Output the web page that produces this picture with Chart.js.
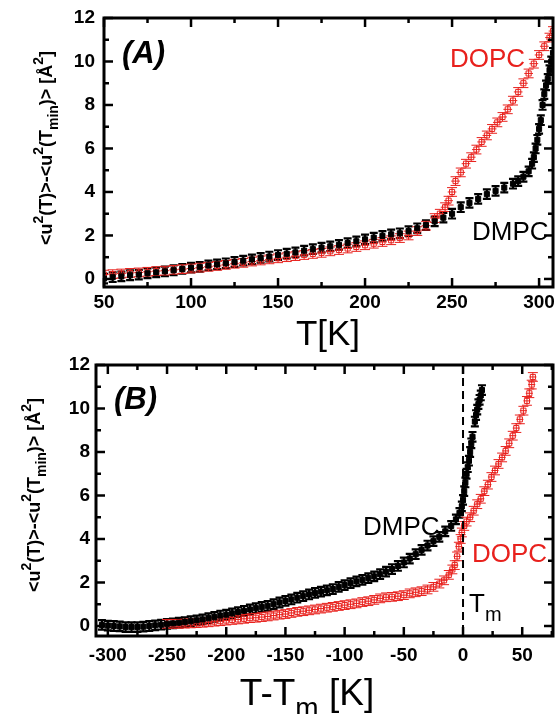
<!DOCTYPE html>
<html><head><meta charset="utf-8">
<script src="https://cdn.jsdelivr.net/npm/chart.js@4.4.0/dist/chart.umd.min.js"></script>
<style>
html,body{margin:0;padding:0;background:#fff;width:558px;height:714px;overflow:hidden;}
canvas{position:absolute;left:0;}
#ca{top:0;}
#cb{top:350px;}
</style></head><body>
<canvas id="ca" width="558" height="360"></canvas>
<canvas id="cb" width="558" height="364"></canvas>
<script>
// ---------- Panel A data: T [K] vs <u2(T)>-<u2(Tmin)> ----------
const tA_DMPC = [50,55,60,65,70,75,80,85,90,95,100,105,110,115,120,125,130,135,140,145,150,155,160,165,170,175,180,185,190,195,200,205,210,215,220,225,230,235,240,245,250,255,260,265,270,275,280,285,288,291,294,296,297,298,299,300,301,302,303,304,305,306,307,308];
const uA_DMPC = [0.02,0.08,0.12,0.17,0.2,0.26,0.3,0.35,0.4,0.46,0.52,0.56,0.62,0.67,0.72,0.78,0.84,0.9,0.97,1.03,1.1,1.16,1.22,1.3,1.37,1.44,1.5,1.57,1.65,1.73,1.82,1.9,1.98,2.05,2.1,2.2,2.33,2.48,2.65,2.82,3.0,3.3,3.5,3.68,3.9,4.05,4.2,4.38,4.5,4.7,4.95,5.3,5.6,6.0,6.4,6.9,7.3,8.0,8.5,8.9,9.2,9.6,10.0,10.4];
const tA_DOPC = [50,55,60,65,70,75,80,85,90,95,100,105,110,115,120,125,130,135,140,145,150,155,160,165,170,175,180,185,190,195,200,205,210,215,220,225,230,235,240,243,246,248,250,252,255,258,261,264,267,270,273,276,279,282,285,288,291,294,297,300,303,306,308];
const uA_DOPC = [0.2,0.22,0.25,0.28,0.3,0.33,0.36,0.38,0.42,0.45,0.48,0.52,0.56,0.6,0.65,0.7,0.74,0.8,0.85,0.9,0.95,1.0,1.05,1.1,1.15,1.2,1.27,1.33,1.4,1.47,1.55,1.62,1.7,1.78,1.88,2.0,2.2,2.45,2.8,3.0,3.3,3.6,4.0,4.5,4.9,5.3,5.6,5.95,6.3,6.6,6.9,7.2,7.45,7.8,8.2,8.6,9.0,9.45,9.9,10.3,10.7,11.1,11.4];

// ---------- Panel B data: T - Tm [K] ----------
const tB_DMPC = [-305,-300,-295,-290,-285,-280,-275,-270,-265,-260,-255,-250,-245,-240,-235,-230,-225,-220,-215,-210,-205,-200,-195,-190,-185,-180,-175,-170,-165,-160,-155,-150,-145,-140,-135,-130,-125,-120,-115,-110,-105,-100,-95,-90,-85,-80,-75,-70,-65,-60,-55,-50,-45,-40,-35,-30,-25,-20,-15,-10,-6,-3,-1,0,1,2,3,4,5,6,7,8,10,11,12,13,14,15,16];
const uB_DMPC = [0.05,0.02,0.0,-0.02,-0.05,-0.05,-0.05,-0.03,0.0,0.03,0.06,0.1,0.12,0.15,0.18,0.22,0.26,0.3,0.36,0.42,0.48,0.52,0.58,0.64,0.7,0.76,0.82,0.88,0.93,1.0,1.08,1.15,1.22,1.3,1.37,1.45,1.52,1.58,1.64,1.7,1.8,1.88,1.97,2.05,2.12,2.2,2.28,2.38,2.5,2.62,2.76,2.92,3.1,3.3,3.5,3.7,3.9,4.1,4.35,4.6,4.9,5.2,5.5,5.8,6.2,6.6,7.0,7.3,7.6,8.0,8.4,8.7,9.4,9.7,9.95,10.2,10.4,10.6,10.85];
const tB_DOPC = [-250,-245,-240,-235,-230,-225,-220,-215,-210,-205,-200,-195,-190,-185,-180,-175,-170,-165,-160,-155,-150,-145,-140,-135,-130,-125,-120,-115,-110,-105,-100,-95,-90,-85,-80,-75,-70,-65,-60,-55,-50,-45,-40,-35,-30,-25,-20,-16,-12,-9,-7,-5,-3.5,-2,-1,1,3,6,9,12,15,18,21,24,27,30,33,36,39,42,45,48,51,54,56,58,59];
const uB_DOPC = [0.1,0.1,0.1,0.11,0.12,0.13,0.15,0.17,0.2,0.22,0.25,0.28,0.3,0.33,0.36,0.38,0.41,0.44,0.48,0.52,0.55,0.6,0.65,0.68,0.72,0.76,0.8,0.84,0.88,0.92,0.96,1.0,1.04,1.1,1.14,1.2,1.27,1.32,1.34,1.37,1.42,1.5,1.55,1.6,1.68,1.8,1.95,2.1,2.35,2.6,2.8,3.2,3.65,4.0,4.3,4.6,4.8,5.0,5.3,5.6,5.85,6.2,6.5,6.85,7.15,7.45,7.75,8.05,8.4,8.75,9.1,9.5,9.9,10.35,10.7,11.1,11.45];

// ---------- tick values ----------
const xMajorA = [50,100,150,200,250,300];
const xMinorA = [75,125,175,225,275];
const xMajorB = [-300,-250,-200,-150,-100,-50,0,50];
const xMinorB = [-275,-225,-175,-125,-75,-25,25,75];
const yMajor = [0,2,4,6,8,10,12];
const yMinor = [1,3,5,7,9,11];
const tmLine = [0];

const RED = '#e8211d';
const FONT = 'Liberation Sans, Arial, sans-serif';
Chart.defaults.font.family = FONT;

function pts(xs, ys){ return xs.map((x,i)=>({x:x, y:ys[i]})); }

const errPlugin = {
  id:'errbars',
  beforeDatasetsDraw(chart, args, o){
    const ctx=chart.ctx, xs=chart.scales.x, ys=chart.scales.y, a=chart.chartArea;
    ctx.save();
    ctx.beginPath(); ctx.rect(a.left,a.top,a.right-a.left,a.bottom-a.top); ctx.clip();
    chart.data.datasets.forEach((ds,di)=>{
      const e = o.err[di];
      ctx.strokeStyle = e.color; ctx.lineWidth = e.w;
      ds.data.forEach(p=>{
        const px=xs.getPixelForValue(p.x), py=ys.getPixelForValue(p.y);
        const y1=ys.getPixelForValue(p.y-e.dy), y2=ys.getPixelForValue(p.y+e.dy);
        const x1=xs.getPixelForValue(p.x-e.dx), x2=xs.getPixelForValue(p.x+e.dx);
        ctx.beginPath();
        ctx.moveTo(px,y1); ctx.lineTo(px,y2);
        ctx.moveTo(px-e.cap,y1); ctx.lineTo(px+e.cap,y1);
        ctx.moveTo(px-e.cap,y2); ctx.lineTo(px+e.cap,y2);
        if (e.dx) { ctx.moveTo(x1,py); ctx.lineTo(x2,py); }
        ctx.stroke();
      });
    });
    ctx.restore();
  }
};

const framePlugin = {
  id:'frame',
  afterDraw(chart, args, o){
    const ctx=chart.ctx, a=chart.chartArea, xs=chart.scales.x, ys=chart.scales.y;
    ctx.save();
    ctx.strokeStyle='#000';
    if (o.vline) {
      o.vline.forEach(v=>{
        const p=xs.getPixelForValue(v);
        ctx.lineWidth=2; ctx.setLineDash([8,5]);
        ctx.beginPath(); ctx.moveTo(p,a.top); ctx.lineTo(p,a.bottom); ctx.stroke();
      });
      ctx.setLineDash([]);
    }
    ctx.lineWidth=3;
    ctx.strokeRect(a.left,a.top,a.right-a.left,a.bottom-a.top);
    ctx.lineWidth=2.5;
    const ln=(x1,y1,x2,y2)=>{ctx.beginPath();ctx.moveTo(x1,y1);ctx.lineTo(x2,y2);ctx.stroke();};
    const xt=(vals,len)=>vals.forEach(v=>{const p=xs.getPixelForValue(v); if(p<a.left-1||p>a.right+1) return; ln(p,a.bottom,p,a.bottom-len); ln(p,a.top,p,a.top+len);});
    const yt=(vals,len)=>vals.forEach(v=>{const p=ys.getPixelForValue(v); if(p<a.top-1||p>a.bottom+1) return; ln(a.left,p,a.left+len,p); ln(a.right,p,a.right-len,p);});
    xt(o.xMajor,9); xt(o.xMinor,5); yt(yMajor,9); yt(yMinor,5);
    ctx.restore();
  }
};

function partFont(parts, m, size){
  const s = m==='n'?size:Math.round(size*0.75);
  return (parts.bold?'bold ':'') + s + 'px ' + FONT;
}
function richWidth(ctx, parts, size){
  let w=0;
  parts.forEach(([t,m])=>{ ctx.font = partFont(parts,m,size); w+=ctx.measureText(t).width; });
  return w;
}
function richDraw(ctx, parts, x, y, size){
  let cx=x;
  parts.forEach(([t,m])=>{
    ctx.font = partFont(parts,m,size);
    const dy = m==='sup' ? -0.5*size : (m==='sub' ? 0.33*size : 0);
    ctx.fillText(t, cx, y+dy);
    cx += ctx.measureText(t).width;
  });
}

const yTitleParts = [['<u','n'],['2','sup'],['(T)>-<u','n'],['2','sup'],['(T','n'],['min','sub'],[')> [Å','n'],['2','sup'],[']','n']];
yTitleParts.bold = true;

const textPlugin = {
  id:'texts',
  afterDraw(chart, args, o){
    const ctx=chart.ctx;
    ctx.save();
    ctx.textBaseline='alphabetic'; ctx.textAlign='left';
    ctx.fillStyle='#000';
    const w = richWidth(ctx, yTitleParts, o.ySize);
    ctx.save();
    ctx.translate(o.yTitleX, o.yTitleY);
    ctx.rotate(-Math.PI/2);
    richDraw(ctx, yTitleParts, -w/2, 0, o.ySize);
    ctx.restore();
    const xw = richWidth(ctx, o.xTitle, o.xSize);
    richDraw(ctx, o.xTitle, o.xTitleX - xw/2, o.xTitleY, o.xSize);
    o.labels.forEach(l=>{
      ctx.fillStyle=l.color;
      if (l.parts) { richDraw(ctx, l.parts, l.x, l.y, l.size); }
      else { ctx.font = l.font; ctx.fillText(l.text, l.x, l.y); }
    });
    ctx.restore();
  }
};

function makeChart(id, H, area, xr, yr, dsets, extra){
  const W=558;
  return new Chart(document.getElementById(id), {
    type:'scatter',
    data:{datasets:dsets},
    options:{
      responsive:false, animation:false, devicePixelRatio:1,
      layout:{padding:{top:area.top, right:W-area.right, left:0, bottom:0}},
      plugins:{legend:{display:false}, tooltip:{enabled:false},
        errbars:{err:extra.err},
        frame:{xMajor:extra.xMajor, xMinor:extra.xMinor, vline:extra.vline},
        texts:extra.texts},
      scales:{
        x:{type:'linear', min:xr[0], max:xr[1],
           afterFit:s=>{s.height=H-area.bottom; s.paddingLeft=0; s.paddingRight=0;},
           grid:{display:false, drawTicks:false}, border:{display:false},
           ticks:{stepSize:50, includeBounds:false, autoSkip:false, maxRotation:0, color:'#000', padding:extra.xPad,
                  font:{family:FONT, weight:'bold', size:19}}},
        y:{type:'linear', min:yr[0], max:yr[1],
           afterFit:s=>{s.width=area.left; s.paddingTop=0; s.paddingBottom=0;},
           grid:{display:false, drawTicks:false}, border:{display:false},
           ticks:{stepSize:2, includeBounds:false, autoSkip:false, color:'#000', padding:extra.yPad,
                  font:{family:FONT, weight:'bold', size:19}}}
      }
    },
    plugins:[errPlugin, framePlugin, textPlugin]
  });
}

const dsBlack = (d)=>({label:'DMPC', data:d, pointStyle:'rect', pointRadius:3.6, backgroundColor:'#000', borderColor:'#000', borderWidth:1, showLine:false});
const dsRed = (d)=>({label:'DOPC', data:d, pointStyle:'rect', pointRadius:3.6, backgroundColor:'rgba(0,0,0,0)', borderColor:RED, borderWidth:1, showLine:false});
const errA = [{color:'#000', w:2.2, dy:0.22, dx:0, cap:4},{color:RED, w:1, dy:0.2, dx:2.5, cap:5}];
const errB = [{color:'#000', w:2.2, dy:0.22, dx:0, cap:4},{color:RED, w:1, dy:0.2, dx:3, cap:5}];

makeChart('ca', 360, {left:104, top:18, right:557, bottom:287}, [50,308], [-0.37,12],
  [dsBlack(pts(tA_DMPC,uA_DMPC)), dsRed(pts(tA_DOPC,uA_DOPC))],
  {err:errA, xMajor:xMajorA, xMinor:xMinorA, vline:null, xPad:4, yPad:9,
   texts:{ySize:18, yTitleX:52, yTitleY:148, xSize:35, xTitleX:328, xTitleY:345,
     xTitle:[['T[K]','n']],
     labels:[
       {text:'(A)', x:122, y:63, color:'#000', font:'italic bold 31px '+FONT},
       {text:'DOPC', x:450, y:67, color:RED, font:'26px '+FONT},
       {text:'DMPC', x:472, y:240, color:'#000', font:'26px '+FONT}
     ]}});

makeChart('cb', 364, {left:96, top:15, right:557, bottom:286}, [-310,76], [-0.46,12],
  [dsBlack(pts(tB_DMPC,uB_DMPC)), dsRed(pts(tB_DOPC,uB_DOPC))],
  {err:errB, xMajor:xMajorB, xMinor:xMinorB, vline:tmLine, xPad:8, yPad:6,
   texts:{ySize:18, yTitleX:40, yTitleY:145, xSize:37, xTitleX:307, xTitleY:355,
     xTitle:[['T-T','n'],['m','sub'],[' [K]','n']],
     labels:[
       {text:'(B)', x:114, y:59, color:'#000', font:'italic bold 31px '+FONT},
       {text:'DMPC', x:363, y:185, color:'#000', font:'26px '+FONT},
       {text:'DOPC', x:472, y:212, color:RED, font:'26px '+FONT},
       {parts:[['T','n'],['m','sub']], x:469, y:262, size:26, color:'#000'}
     ]}});
</script>
</body></html>
